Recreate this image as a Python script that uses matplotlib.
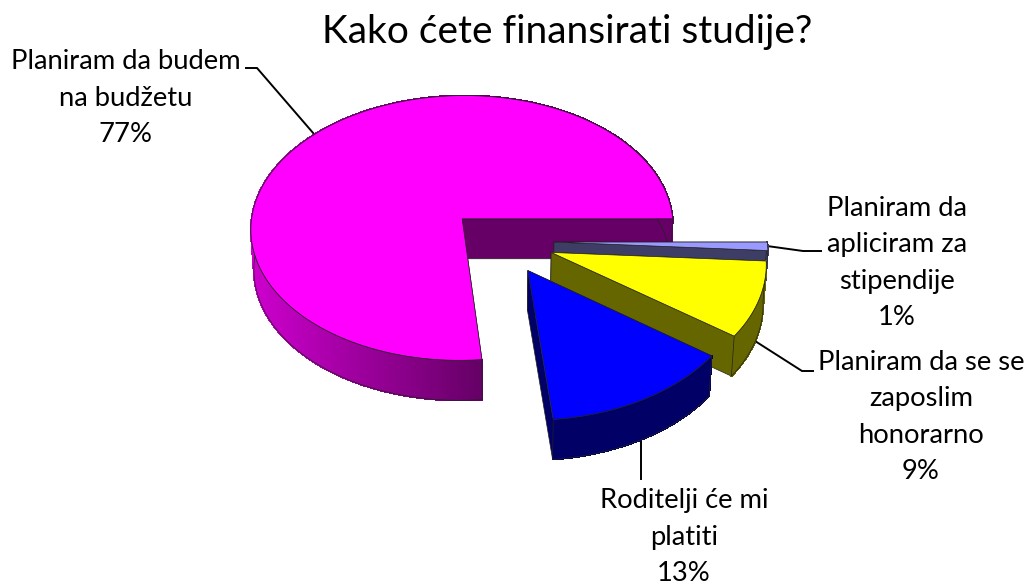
import numpy as np
from matplotlib import pyplot as plt
from matplotlib.collections import PolyCollection
from matplotlib.colors import to_rgb

naslov = 'Kako ćete finansirati studije?'
kategorije = ['Planiram da budem\nna budžetu',
              'Roditelji će mi\nplatiti',
              'Planiram da se se\nzaposlim\nhonorarno',
              'Planiram da\napliciram za\nstipendije']
vrednosti = [76.6, 13.4, 9.0, 1.0]
boje_gore = ['#FF00FF', '#0000FF', '#FFFF00', '#9999FF']
boje_strana = ['#660066', '#000066', '#666600', '#3D3D66']
redosled = [0, 3, 2, 1]

# pozicije etiketa i linija (pikseli)
poz_etiketa = [(126, 98), (684, 537), (921, 417), (897, 263)]
linije = [[(246, 68), (257, 68), (314, 134)],
          [(641, 438), (641, 479)],
          [(755, 341), (802, 371), (813, 371)],
          [(767, 246), (803, 251), (821, 251)]]

# parametri 3D projekcije
x0, y0 = 501, 241
R = 213
eksplozija = 53
s = 0.633
k = 0.00033
dubina = 40


def proj(X, Y, dole=False):
    f = 1 / (1 - k * Y)
    if dole:
        return x0 + X * f * 0.988, y0 + s * Y * f + dubina
    return x0 + X * f, y0 + s * Y * f


def tacke(cx, cy, ugao, dole=False):
    a = np.radians(ugao)
    return proj(cx + R * np.cos(a), cy - R * np.sin(a), dole)


def mesaj(c, t):
    return tuple(np.array(to_rgb(c)) * (1 - t) + np.array(to_rgb('#CC00CC')) * t)


fig = plt.figure(figsize=(10.26, 5.86), dpi=100)
ax = fig.add_axes([0, 0, 1, 1])
ax.set_xlim(0, 1026)
ax.set_ylim(586, 0)
ax.axis('off')

for lin in linije:
    ax.plot([p[0] for p in lin], [p[1] for p in lin], color='black', lw=1.4, zorder=1,
            solid_joinstyle='miter')

granice = np.r_[0, np.cumsum(vrednosti)] * 3.6
z = 2
for i in redosled:
    poc = granice[i]
    kraj = granice[i + 1]
    sred = np.radians((poc + kraj) / 2)
    cx = eksplozija * np.cos(sred)
    cy = -eksplozija * np.sin(sred)
    uglovi = np.linspace(poc, kraj, max(int(kraj - poc), 4) + 1)

    centar = proj(cx, cy)
    centar_d = proj(cx, cy, True)
    # ravne strane, prvo zadnja pa prednja
    for u in (kraj, poc):
        p1 = tacke(cx, cy, u)
        p2 = tacke(cx, cy, u, True)
        ax.fill([centar[0], p1[0], p2[0], centar_d[0]], [centar[1], p1[1], p2[1], centar_d[1]],
                fc=boje_strana[i], ec='#222222', lw=0.5, zorder=z)

    # spoljna strana
    xg, yg = tacke(cx, cy, uglovi)
    xd, yd = tacke(cx, cy, uglovi, True)
    kv = []
    bo = []
    for j in range(len(uglovi) - 1):
        kv.append([(xg[j], yg[j]), (xg[j + 1], yg[j + 1]), (xd[j + 1], yd[j + 1]), (xd[j], yd[j])])
        if i == 0:
            t = np.clip((xg[j] - 480) / (255 - 480), 0, 1)
            bo.append(mesaj(boje_strana[i], t))
        else:
            bo.append(to_rgb(boje_strana[i]))
    ax.add_collection(PolyCollection(kv, facecolors=bo, edgecolors=bo, linewidths=0.8,
                                     antialiaseds=False, zorder=z))
    ax.fill(np.r_[xg, xd[::-1]], np.r_[yg, yd[::-1]], fc='none', ec='#222222', lw=0.5, zorder=z)

    # gornja strana
    ax.fill(np.r_[centar[0], xg], np.r_[centar[1], yg], fc=boje_gore[i], ec='#222222', lw=0.5, zorder=z + 1)

    z += 2

ax.text(567, 32, naslov, ha='center', va='center', fontsize=28, family='Lato', color='black')
for i, v in enumerate(vrednosti):
    ax.text(poz_etiketa[i][0], poz_etiketa[i][1], kategorije[i] + '\n' + str(round(v)) + '%', ha='center',
            va='center', fontsize=19.7, family='Lato', color='black', linespacing=1.58)

plt.savefig('out.png', dpi=100)
